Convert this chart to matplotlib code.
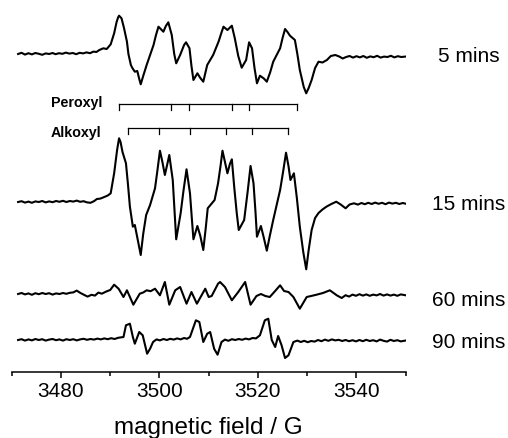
"""EPR spectra of the radical adducts at different reaction times"""

import numpy as np
import matplotlib

matplotlib.use("Agg")
import matplotlib.pyplot as plt

plt.rcParams["font.family"] = ["Liberation Sans", "DejaVu Sans"]

# spectra: (magnetic field [G], signal [arb. units, relative to baseline])
# ------------------------------------------------------------------------
five_min = np.array([
    [3471.3, 0.0], [3472.0, 1.2], [3472.7, -0.6], [3473.4, 0.8], [3474.1, -0.4],
    [3474.8, 1.0], [3475.5, 0.2], [3476.2, -0.8], [3476.9, 0.6], [3477.6, 0.0],
    [3478.3, 1.0], [3478.9, -0.2], [3479.6, 0.8], [3480.3, 0.2], [3481.0, 1.4],
    [3481.7, 0.4], [3482.4, 1.0], [3483.1, -0.2], [3483.8, 1.2], [3484.5, 0.6],
    [3485.2, 1.6], [3485.9, 0.8], [3486.6, 2.4], [3487.2, 2.0], [3487.8, 4.0],
    [3488.6, 5.7], [3489.3, 5.0], [3490.1, 9.7], [3490.8, 20.7], [3491.3, 32.0],
    [3491.6, 36.5], [3491.8, 38.3], [3492.3, 35.7], [3492.8, 26.0], [3493.4, 12.3],
    [3493.7, 0.0], [3494.2, -11.0], [3494.5, -14.0], [3495.0, -17.7], [3495.5, -17.0],
    [3495.9, -25.0], [3496.2, -30.3], [3496.7, -22.0], [3497.4, -11.0], [3498.1, -1.0],
    [3498.8, 9.0], [3499.3, 19.0], [3499.8, 27.3], [3500.8, 22.3], [3501.3, 28.0],
    [3501.8, 31.7], [3502.5, 19.0], [3503.0, 0.0], [3503.4, -9.3], [3504.2, -1.0],
    [3505.0, 9.0], [3505.4, 11.7], [3506.1, 5.7], [3506.5, -12.0], [3506.9, -26.0],
    [3507.7, -19.3], [3508.3, -24.0], [3508.9, -27.7], [3509.7, -11.0], [3510.9, -1.0],
    [3512.0, 12.3], [3512.5, 20.0], [3513.0, 27.3], [3513.8, 24.0], [3514.7, 28.3],
    [3515.3, 15.7], [3516.0, -2.0], [3516.7, -13.7], [3517.6, -6.0], [3518.2, 11.7],
    [3518.8, 5.7], [3519.3, -14.0], [3519.8, -29.3], [3520.4, -21.7], [3521.2, -24.5],
    [3521.8, -27.7], [3522.5, -18.0], [3523.1, -7.7], [3524.5, 5.7], [3525.0, 16.0],
    [3525.5, 25.0], [3526.0, 22.0], [3526.5, 18.3], [3527.5, 14.0], [3528.0, 0.0],
    [3528.5, -16.0], [3529.3, -33.0], [3529.8, -39.3], [3530.3, -34.0], [3530.9, -26.0],
    [3531.6, -14.0], [3532.3, -7.7], [3533.1, -8.5], [3534.0, -6.0], [3534.8, -2.0],
    [3535.7, -1.0], [3536.5, -2.5], [3537.2, -4.5], [3537.9, -3.0], [3538.6, -2.0],
    [3539.3, -3.6], [3540.0, -2.2], [3540.7, -3.4], [3541.4, -2.0], [3542.1, -3.8],
    [3542.8, -2.4], [3543.5, -3.2], [3544.2, -1.8], [3544.9, -3.6], [3545.6, -2.6],
    [3546.3, -3.0], [3547.0, -1.8], [3547.7, -3.4], [3548.4, -2.2], [3549.1, -3.0],
    [3549.9, -2.6],
])

fifteen_min = np.array([
    [3471.3, 0.0], [3472.0, 0.8], [3472.7, -0.6], [3473.4, 0.4], [3474.1, -0.8],
    [3474.8, 0.6], [3475.5, 0.0], [3476.2, 1.0], [3476.9, -0.4], [3477.6, 0.6],
    [3478.3, -0.2], [3479.0, 1.0], [3479.7, 0.2], [3480.4, 1.2], [3481.1, 0.0],
    [3481.8, 1.0], [3482.5, 0.4], [3483.2, 1.4], [3483.9, 0.2], [3484.6, 0.8],
    [3485.3, -0.4], [3486.0, -0.8], [3486.7, 0.8], [3487.3, 3.0], [3488.0, 3.4],
    [3488.8, 5.0], [3489.5, 6.5], [3490.1, 8.7], [3490.8, 28.7], [3491.4, 52.0],
    [3491.8, 63.7], [3492.1, 60.0], [3492.5, 50.0], [3493.2, 38.7], [3493.6, 18.0],
    [3494.0, -4.7], [3494.6, -24.7], [3495.0, -23.0], [3495.6, -38.0], [3496.2, -53.0],
    [3496.7, -32.0], [3497.3, -13.0], [3498.1, -3.0], [3499.1, 13.7], [3499.6, 32.0],
    [3500.1, 51.3], [3500.6, 40.0], [3501.1, 27.0], [3501.6, 38.0], [3502.0, 47.0],
    [3502.7, 22.0], [3503.1, -12.0], [3503.4, -37.3], [3504.3, -11.3], [3504.9, 12.0],
    [3505.5, 32.7], [3506.2, 8.7], [3506.6, -18.0], [3506.9, -37.3], [3507.7, -24.0],
    [3508.3, -34.0], [3508.9, -48.0], [3509.4, -26.0], [3509.8, -6.3], [3511.2, 2.0],
    [3511.9, 18.7], [3512.4, 36.0], [3512.8, 51.3], [3513.3, 40.0], [3513.8, 28.7],
    [3514.3, 38.0], [3514.7, 42.7], [3515.2, 14.0], [3515.7, -11.3], [3516.1, -28.0],
    [3517.2, -18.0], [3517.9, 10.0], [3518.5, 36.0], [3519.1, 18.7], [3519.5, -10.0],
    [3519.8, -34.7], [3520.6, -24.0], [3521.2, -36.0], [3521.8, -48.7], [3522.4, -34.0],
    [3523.1, -18.0], [3524.5, 12.0], [3525.1, 30.0], [3525.7, 49.3], [3526.2, 36.0],
    [3526.6, 22.0], [3527.3, 28.7], [3527.9, 4.0], [3528.5, -24.7], [3529.2, -50.0],
    [3529.8, -67.3], [3530.3, -48.0], [3530.9, -28.0], [3531.6, -16.0], [3532.3, -11.0],
    [3533.1, -7.5], [3533.9, -4.7], [3534.9, -2.0], [3535.9, 0.3], [3536.8, -2.5],
    [3537.8, -6.3], [3538.6, -2.5], [3539.5, -1.3], [3540.3, -2.6], [3541.0, -1.0],
    [3541.7, -2.2], [3542.4, -0.8], [3543.1, -2.0], [3543.8, -0.6], [3544.5, -1.8],
    [3545.2, -0.8], [3545.9, -2.2], [3546.6, -0.6], [3547.3, -1.6], [3548.0, -0.8],
    [3548.7, -2.0], [3549.4, -1.0], [3549.9, -1.6],
])

sixty_min = np.array([
    [3471.3, 0.0], [3472.0, 1.0], [3472.7, -0.4], [3473.4, 0.6], [3474.1, -0.8],
    [3474.8, 0.8], [3475.5, -0.2], [3476.2, 1.0], [3476.9, 0.0], [3477.6, 0.8],
    [3478.3, -0.6], [3479.0, 0.6], [3479.7, 0.0], [3480.4, 1.0], [3481.1, 0.2],
    [3481.8, 1.2], [3482.5, 1.6], [3483.2, 3.4], [3483.9, 1.2], [3484.6, -0.6],
    [3485.4, -2.6], [3486.2, -0.8], [3486.9, -1.6], [3487.6, 1.4], [3488.3, 0.3],
    [3489.2, 2.5], [3490.0, 4.0], [3490.8, 9.3], [3491.7, 5.3], [3492.7, -3.0],
    [3493.4, 3.7], [3494.7, -10.7], [3496.0, 0.3], [3496.7, 1.5], [3497.4, 3.7],
    [3498.2, 2.8], [3499.1, 5.3], [3500.1, -1.3], [3501.1, 12.0], [3502.0, -10.7],
    [3503.2, 3.7], [3504.2, 7.0], [3505.5, -9.7], [3506.5, 2.0], [3507.6, -9.7],
    [3509.3, 5.3], [3510.0, -3.0], [3510.6, -2.0], [3511.9, 10.3], [3512.3, 12.0],
    [3513.3, 7.0], [3514.7, -6.3], [3516.0, 2.0], [3517.4, 12.0], [3518.5, -10.7],
    [3519.7, -2.0], [3520.6, 0.0], [3521.5, -2.0], [3522.4, -3.0], [3523.4, 2.5],
    [3524.5, 8.7], [3525.3, 3.0], [3526.2, 2.0], [3527.2, -3.0], [3528.5, -14.7],
    [3529.9, -3.0], [3530.8, -2.0], [3531.9, -0.7], [3533.2, 1.0], [3534.6, 3.7],
    [3536.0, -1.3], [3537.0, -4.0], [3537.8, -1.2], [3538.5, -2.6], [3539.2, -0.6],
    [3539.9, -1.8], [3540.6, -0.2], [3541.3, -1.6], [3542.0, -0.4], [3542.7, -1.8],
    [3543.4, -0.6], [3544.1, -1.4], [3544.8, 0.0], [3545.5, -1.6], [3546.2, -0.4],
    [3546.9, -1.6], [3547.6, -0.6], [3548.3, -1.8], [3549.0, -0.4], [3549.9, -1.2],
])

ninety_min = np.array([
    [3471.3, 0.0], [3472.0, 0.8], [3472.7, -0.6], [3473.4, 0.6], [3474.1, -0.4],
    [3474.8, 1.0], [3475.5, 0.0], [3476.2, 0.8], [3476.9, -0.6], [3477.6, 0.4],
    [3478.3, 1.0], [3479.0, -0.2], [3479.7, 0.6], [3480.4, -0.6], [3481.1, 0.8],
    [3481.8, 0.0], [3482.5, 0.8], [3483.2, -0.4], [3483.9, 0.6], [3484.6, 1.2],
    [3485.3, 0.2], [3486.0, 1.0], [3486.7, 0.4], [3487.4, 1.4], [3488.1, 0.6],
    [3488.8, 1.6], [3489.5, 0.8], [3490.2, 1.8], [3490.9, 1.0], [3491.6, 2.2],
    [3492.7, 3.0], [3493.2, 14.7], [3494.0, 16.3], [3494.6, 3.0], [3495.0, -3.7],
    [3495.9, 8.0], [3496.6, 4.7], [3497.5, -13.7], [3498.1, -8.7], [3498.7, -2.0],
    [3499.4, 0.6], [3500.1, -0.4], [3500.8, 1.0], [3501.5, 0.0], [3502.2, 1.2],
    [3502.9, 0.4], [3503.6, 1.6], [3504.3, 0.6], [3505.0, 2.0], [3505.6, 1.2],
    [3506.2, 3.0], [3507.4, 19.7], [3508.1, 18.0], [3508.9, -2.0], [3509.7, 6.3],
    [3510.3, 8.0], [3511.1, -8.7], [3511.8, -14.7], [3512.6, -2.0], [3513.3, 0.4],
    [3514.0, -0.8], [3514.7, 0.8], [3515.4, 0.0], [3516.1, 1.0], [3516.8, 0.2],
    [3517.5, 1.4], [3518.2, 0.6], [3518.9, 2.0], [3519.6, 1.6], [3520.4, 4.7],
    [3521.4, 19.7], [3522.1, 21.3], [3522.8, 0.0], [3523.5, -7.0], [3524.1, 4.0],
    [3524.8, -5.3], [3525.5, -18.0], [3526.2, -15.3], [3527.2, -2.0], [3528.0, -0.6],
    [3528.7, -2.0], [3529.4, -0.8], [3530.1, -2.2], [3530.8, -1.0], [3531.5, -1.6],
    [3532.2, 0.0], [3532.9, -1.2], [3533.6, 0.4], [3534.3, -0.8], [3535.0, 0.6],
    [3535.7, -0.4], [3536.4, 0.2], [3537.1, -1.0], [3537.8, 0.0], [3538.5, -1.2],
    [3539.2, -0.2], [3539.9, -1.4], [3540.6, 0.0], [3541.3, -1.2], [3542.0, 0.2],
    [3542.7, -1.0], [3543.4, -0.2], [3544.1, -1.4], [3544.8, 0.4], [3545.5, -0.8],
    [3546.2, -1.6], [3546.9, 0.2], [3547.6, -1.0], [3548.3, -0.2], [3549.0, -1.4],
    [3549.9, -0.6],
])

spectra = [five_min, fifteen_min, sixty_min, ninety_min]
time_labels = ["5 mins", "15 mins", "60 mins", "90 mins"]

# stick diagrams (line positions in G)
peroxyl_lines = [3491.8, 3502.3, 3505.9, 3514.8, 3518.2, 3527.9]
alkoxyl_lines = [3493.6, 3499.9, 3506.3, 3513.6, 3518.8, 3526.0]

# layout: vertical offsets of the stacked traces
offsets = [318, 170, 78, 32]
label_y = [316, 168, 72, 30]
label_x = 3562.8
stick_levels = [268.5, 244.5]
stick_text_drop = [4.0, 9.0]
stick_drop = 6.5


def stick_diagram(ax, lines, level, name, text_drop):
    """Draw a horizontal bracket with a downward tick per hyperfine line"""
    ax.plot([lines[0], lines[-1]], [level, level], color="black", lw=0.9)
    for pos in lines:
        ax.plot([pos, pos], [level, level - stick_drop], color="black", lw=0.9)
    ax.text(3477.9, level - text_drop, name, fontsize=10.3, fontweight="bold",
            ha="left", va="baseline")


fig = plt.figure(figsize=(5.08, 4.38), dpi=100)
ax = fig.add_axes([11.7 / 508, 66 / 438, 394 / 508, 372 / 438])

for spec, off, lab, ly in zip(spectra, offsets, time_labels, label_y):
    ax.plot(spec[:, 0], spec[:, 1] + off, color="black", lw=1.5,
            solid_joinstyle="round")
    ax.text(label_x, ly, lab, fontsize=15, ha="center", va="center",
            clip_on=False)

stick_diagram(ax, peroxyl_lines, stick_levels[0], "Peroxyl", stick_text_drop[0])
stick_diagram(ax, alkoxyl_lines, stick_levels[1], "Alkoxyl", stick_text_drop[1])

# axes config: only the field axis is shown
ax.set_xlim(3470, 3550)
ax.set_ylim(0, 372)
for side in ["left", "right", "top"]:
    ax.spines[side].set_visible(False)
ax.spines["bottom"].set_linewidth(1.1)
ax.set_yticks([])
ax.set_xticks([3480, 3500, 3520, 3540])
ax.set_xticks(np.arange(3470, 3551, 10), minor=True)
ax.tick_params(axis="x", which="major", direction="out", length=4.5,
               width=1.1, labelsize=15, pad=3)
ax.tick_params(axis="x", which="minor", direction="out", length=2.8, width=1.1)
ax.set_xlabel("magnetic field / G", fontsize=17.5, labelpad=11)

fig.savefig("out.png", dpi=100)
